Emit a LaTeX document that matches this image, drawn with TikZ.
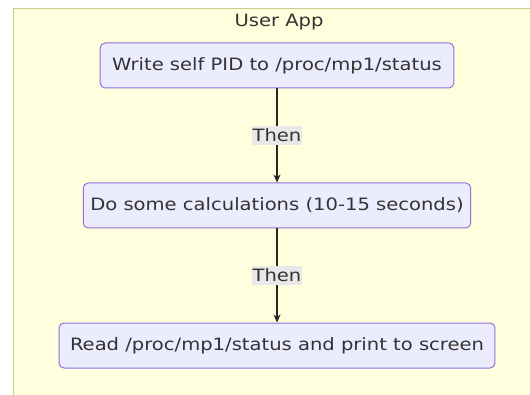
\documentclass[tikz,border=0pt]{standalone}
\usepackage{fontspec}
\setmainfont[FakeStretch=1.15]{DejaVu Sans}
\usepackage{tikz}
\usetikzlibrary{arrows,arrows.meta,shapes,positioning}
\usepackage{xcolor}
\definecolor{appyellow}{RGB}{255,255,222}
\definecolor{appborder}{RGB}{204,204,140}
\definecolor{steppurple}{RGB}{147,112,219}
\definecolor{steplilac}{RGB}{236,236,255}
\definecolor{labelgray}{RGB}{232,232,232}
\definecolor{textgray}{RGB}{51,51,51}
\tikzstyle{stepbox} = [rectangle, rounded corners=5pt, minimum height=45pt, inner xsep=12pt, text centered, draw=steppurple, fill=steplilac, line width=1pt, text=textgray, font=\fontsize{17}{20}\selectfont]
\tikzstyle{arrow} = [line width=1.5pt,-{Stealth[length=8pt,width=7pt]},color=black!85]
\tikzstyle{thenlabel} = [fill=labelgray, text=textgray, inner xsep=1pt, inner ysep=3pt, font=\fontsize{17}{20}\selectfont]

\begin{document}
\begin{tikzpicture}[x=1pt,y=1pt,node distance=94pt]
\useasboundingbox (0,0) rectangle (530,394);
\clip (0,0) rectangle (530,394);
\fill[white] (0,0) rectangle (530,394);

% User App group
\draw[fill=appyellow, draw=appborder, line width=1pt] (13,385) rectangle (560,-20);
\node[text=textgray, font=\fontsize{17}{20}\selectfont] (title) at (279,372) {User App};

% Steps
\node[stepbox] (write) at (277,328.5) {Write self PID to /proc/mp1/status};
\node[stepbox, inner xsep=7pt, below=of write] (calc) {Do some calculations (10-15 seconds)};
\node[stepbox, inner xsep=11pt, below=of calc] (read) {Read /proc/mp1/status and print to screen};

% Arrows
\draw[arrow] (write) -- node[thenlabel] {Then} (calc);
\draw[arrow] (calc) -- node[thenlabel] {Then} (read);
\end{tikzpicture}
\end{document}
